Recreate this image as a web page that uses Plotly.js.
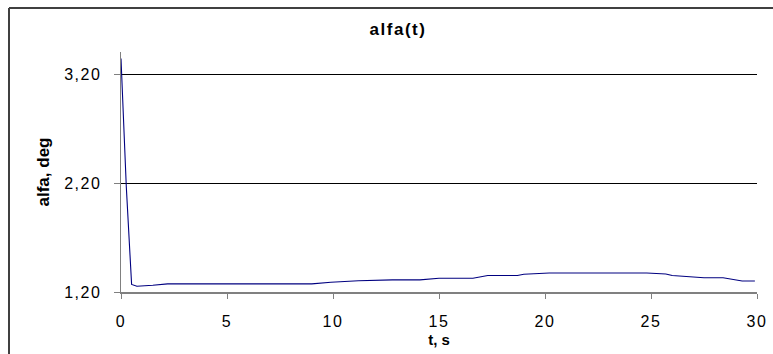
<!DOCTYPE html>
<html>
<head>
<meta charset="utf-8">
<script src="https://cdn.plot.ly/plotly-3.0.1.min.js"></script>
<style>
html,body{margin:0;padding:0;background:#fff;}
#chart{width:773px;height:354px;}
#chart .xtick text, #chart .ytick text{letter-spacing:1.5px;}
#chart .gtitle{letter-spacing:1.5px;}
</style>
</head>
<body>
<div id="chart"></div>
<script>
// time, s
const tValues = [0, 0.25, 0.5, 0.75, 1.5, 2.2, 9.0, 9.9, 11.2, 12.8, 14.1, 15.0, 16.6, 17.3, 18.7, 19.0, 20.2, 24.8, 25.7, 26.0, 27.5, 28.4, 29.3, 29.9];
// alfa, deg
const alfaValues = [3.35, 2.17, 1.27, 1.253, 1.262, 1.275, 1.275, 1.290, 1.303, 1.312, 1.312, 1.327, 1.327, 1.352, 1.352, 1.364, 1.375, 1.375, 1.366, 1.352, 1.331, 1.331, 1.301, 1.301];
const xTickVals = [0, 5, 10, 15, 20, 25, 30];
const yTickVals = [1.2, 2.2, 3.2];
const yTickText = ["1,20", "2,20", "3,20"];

const W = 773, H = 354;
const ml = 121, mr = 16, mt = 52, mb = 61.5;
const pw = W - ml - mr, ph = H - mt - mb;
function px2x(p){ return (p - ml) / pw; }
function py2y(p){ return (H - mb - p) / ph; }

const font = "Liberation Sans, Arial, sans-serif";

const trace = {
  x: tValues,
  y: alfaValues,
  type: "scatter",
  mode: "lines",
  line: {color: "#000080", width: 1.1},
  hoverinfo: "skip"
};

const layout = {
  width: W, height: H,
  margin: {l: ml, r: mr, t: mt, b: mb, pad: 0},
  paper_bgcolor: "#ffffff",
  plot_bgcolor: "#ffffff",
  showlegend: false,
  font: {family: font, color: "#000", size: 13},
  title: {
    text: "<b>alfa(t)</b>",
    font: {family: font, size: 17, color: "#000"},
    x: 398 / W, xref: "container", xanchor: "center",
    y: 1 - 29 / H, yref: "container", yanchor: "middle"
  },
  xaxis: {
    range: [0, 30],
    tickvals: xTickVals,
    ticktext: xTickVals.map(String),
    ticks: "outside", ticklen: 5, tickcolor: "#808080", tickwidth: 1,
    ticklabelstandoff: 9,
    showline: true, linecolor: "#808080", linewidth: 1.5,
    showgrid: false, zeroline: false,
    tickfont: {family: font, size: 16, color: "#000"},
    title: {text: "<b>t, s</b>", font: {family: font, size: 15, color: "#000"}, standoff: 6},
    fixedrange: true
  },
  yaxis: {
    range: [1.2, 3.41],
    tickvals: yTickVals,
    ticktext: yTickText,
    ticks: "outside", ticklen: 6, tickcolor: "#808080", tickwidth: 1,
    ticklabelstandoff: 9,
    showline: true, linecolor: "#808080", linewidth: 1.5,
    showgrid: true, gridcolor: "#000000", gridwidth: 1,
    zeroline: false,
    tickfont: {family: font, size: 16, color: "#000"},
    title: {text: "<b>alfa, deg</b>", font: {family: "Liberation Sans Narrow, Liberation Sans, Arial, sans-serif", size: 17, color: "#000"}, standoff: 16},
    fixedrange: true
  },
  shapes: [
    {type: "line", xref: "paper", yref: "paper",
     x0: px2x(9), x1: px2x(9), y0: py2y(8), y1: py2y(400),
     line: {color: "#404040", width: 2}},
    {type: "line", xref: "paper", yref: "paper",
     x0: px2x(9), x1: px2x(900), y0: py2y(8), y1: py2y(8),
     line: {color: "#404040", width: 2}}
  ]
};

Plotly.newPlot("chart", [trace], layout, {staticPlot: true, displayModeBar: false});
</script>
</body>
</html>
